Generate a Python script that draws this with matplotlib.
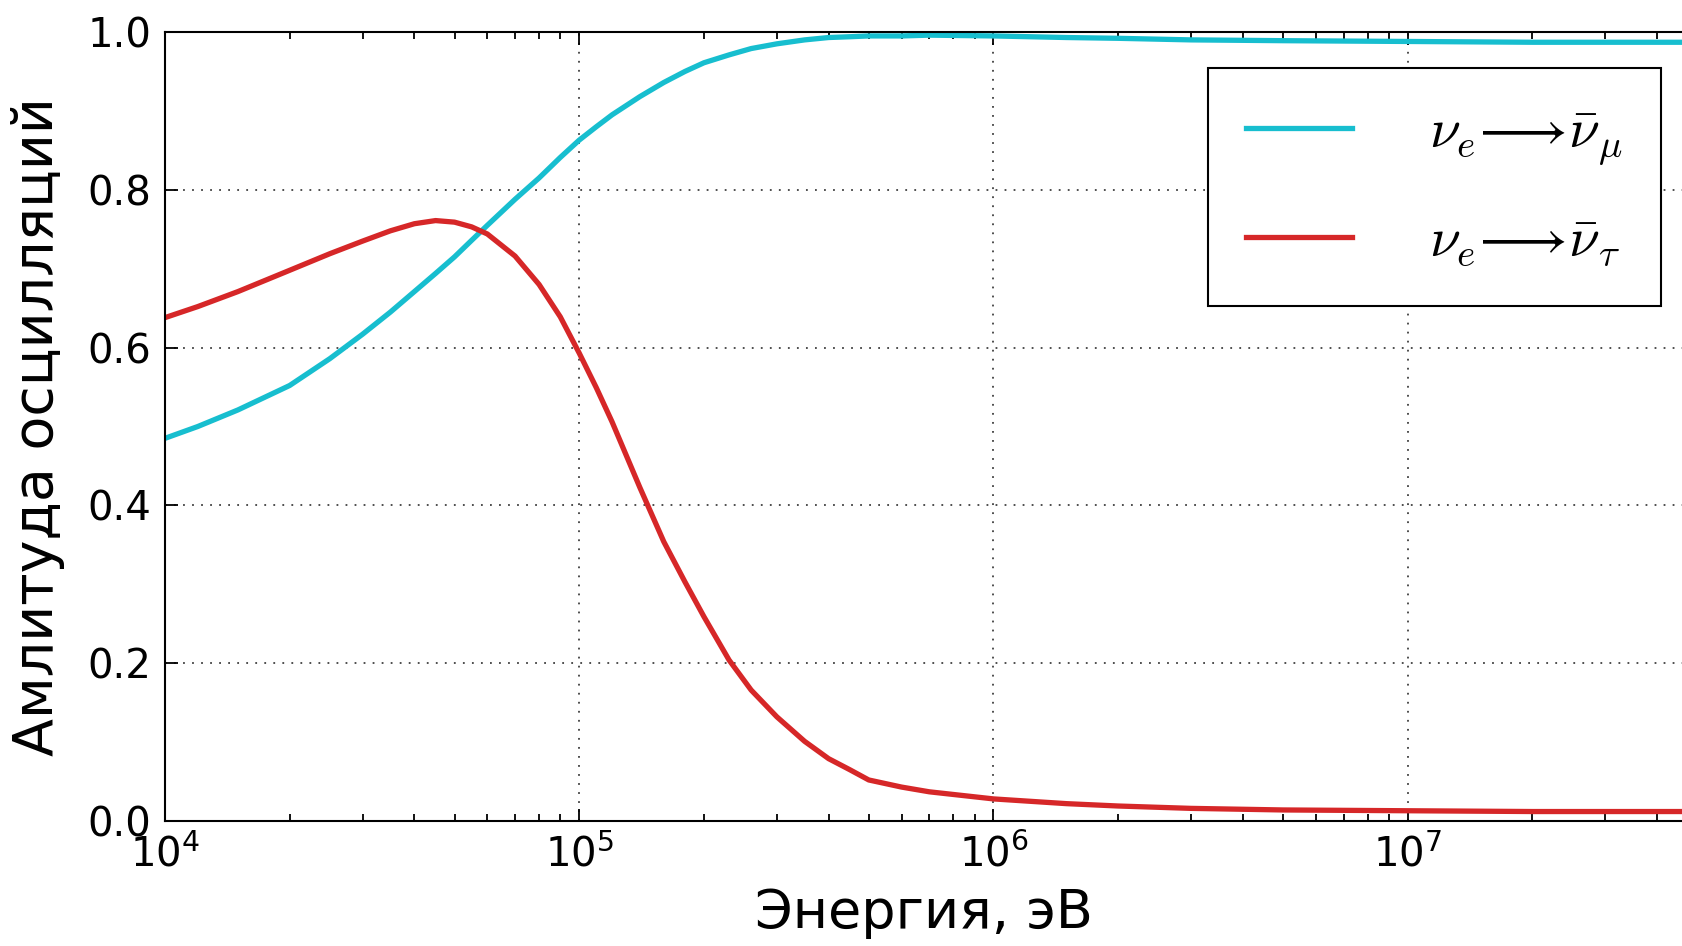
import numpy as np
import matplotlib
matplotlib.use("Agg")
import matplotlib.pyplot as plt
from matplotlib.ticker import LogLocator

# ====== данные ======
energy = [1e4, 1.2e4, 1.5e4, 2e4, 2.5e4, 3e4, 3.5e4, 4e4, 4.5e4, 5e4,
          5.5e4, 6e4, 7e4, 8e4, 9e4, 1e5, 1.1e5, 1.2e5, 1.4e5, 1.6e5,
          1.8e5, 2e5, 2.3e5, 2.6e5, 3e5, 3.5e5, 4e5, 4.5e5, 5e5, 6e5,
          7e5, 1e6, 1.5e6, 2e6, 3e6, 5e6, 1e7, 2e7, 5e7]

amp_mu = [0.485, 0.500, 0.521, 0.552, 0.586, 0.617, 0.645, 0.671, 0.694, 0.715,
          0.736, 0.755, 0.788, 0.815, 0.841, 0.863, 0.880, 0.895, 0.918, 0.936,
          0.950, 0.961, 0.971, 0.979, 0.985, 0.990, 0.993, 0.994, 0.995, 0.995,
          0.996, 0.995, 0.993, 0.992, 0.990, 0.989, 0.988, 0.987, 0.987]

amp_tau = [0.638, 0.652, 0.671, 0.698, 0.719, 0.735, 0.748, 0.757, 0.761, 0.759,
           0.753, 0.744, 0.716, 0.680, 0.639, 0.593, 0.549, 0.506, 0.423, 0.354,
           0.303, 0.259, 0.204, 0.166, 0.132, 0.101, 0.079, 0.065, 0.052, 0.043,
           0.037, 0.028, 0.022, 0.019, 0.016, 0.014, 0.013, 0.012, 0.012]

labels = [r"$\nu_e\!\longrightarrow\!\bar{\nu}_\mu$",
          r"$\nu_e\!\longrightarrow\!\bar{\nu}_\tau$"]
y_ticks = [0.0, 0.2, 0.4, 0.6, 0.8, 1.0]

# ====== график ======
W, H = 1683, 946
fig = plt.figure(figsize=(W / 100, H / 100), dpi=100)
ax = fig.add_axes([165 / W, 1 - 821 / H, 1 - 165 / W, (821 - 32) / H])

ax.plot(energy, amp_mu, color="#17becf", lw=3.8, label=labels[0])
ax.plot(energy, amp_tau, color="#d62728", lw=3.8, label=labels[1])

ax.set_xscale("log")
ax.set_xlim(1e4, 4.62e7)
ax.set_ylim(0, 1)
ax.set_yticks(y_ticks)
ax.xaxis.set_minor_locator(LogLocator(base=10, subs=np.arange(2, 10)))

ax.grid(True, which="major", color="0.25", linestyle=(0, (1, 4)), lw=1.3)

for s in ["left", "bottom", "top"]:
    ax.spines[s].set_linewidth(1.5)
ax.spines["right"].set_visible(False)
ax.tick_params(which="both", direction="in", top=True, right=False,
               labelsize=29, width=1.3, pad=10)
ax.tick_params(which="major", length=9)
ax.tick_params(which="minor", length=5)

ax.set_xlabel("Энергия, эВ", fontsize=39, labelpad=8)
ax.set_ylabel("Амлитуда осцилляций", fontsize=40, labelpad=16)

leg = ax.legend(loc="upper right", bbox_to_anchor=(1661 / W, 1 - 68 / H),
                bbox_transform=fig.transFigure, borderaxespad=0,
                fontsize=40, handlelength=1.9, handletextpad=1.4,
                labelspacing=0.85, borderpad=0.68, fancybox=False,
                framealpha=1, edgecolor="black")
leg.get_frame().set_linewidth(1.5)
for t in leg.get_texts():
    t.set_math_fontfamily("cm")

fig.savefig("out.png", dpi=100)
